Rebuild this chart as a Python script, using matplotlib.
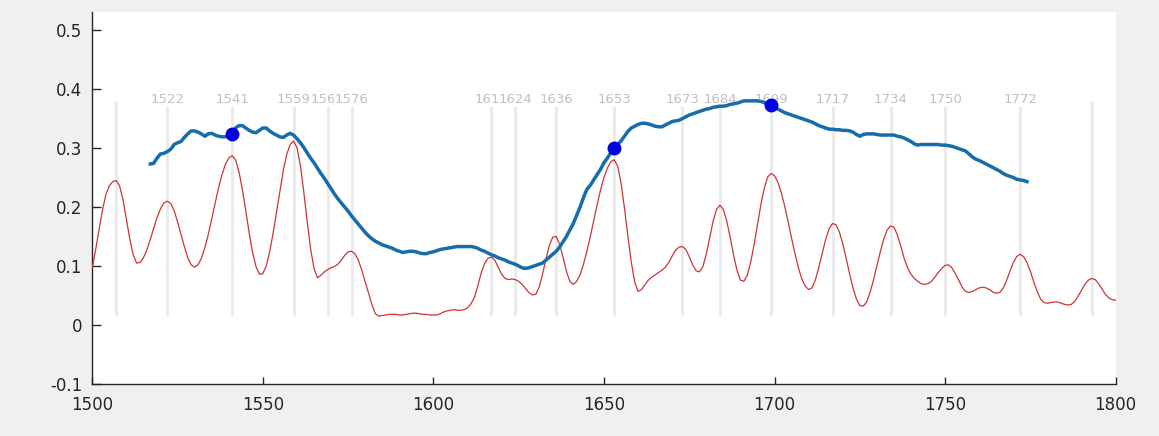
import numpy as np
import matplotlib.pyplot as plt

# annual red series, 1500-1800
years = np.arange(1500, 1801)
red = [
    0.097, 0.128, 0.162, 0.195, 0.221, 0.236, 0.243, 0.245, 0.236, 0.213,  # 1500
    0.180, 0.146, 0.119, 0.105, 0.106, 0.114, 0.127, 0.145, 0.164, 0.182,  # 1510
    0.197, 0.207, 0.210, 0.206, 0.194, 0.175, 0.154, 0.133, 0.114, 0.102,  # 1520
    0.098, 0.102, 0.113, 0.131, 0.153, 0.179, 0.206, 0.232, 0.254, 0.272,  # 1530
    0.283, 0.287, 0.280, 0.260, 0.230, 0.194, 0.156, 0.123, 0.099, 0.086,  # 1540
    0.087, 0.100, 0.124, 0.155, 0.191, 0.228, 0.262, 0.289, 0.306, 0.312,  # 1550
    0.301, 0.271, 0.226, 0.176, 0.129, 0.096, 0.080, 0.084, 0.090, 0.094,  # 1560
    0.097, 0.099, 0.103, 0.110, 0.118, 0.124, 0.125, 0.121, 0.110, 0.093,  # 1570
    0.073, 0.054, 0.034, 0.019, 0.015, 0.016, 0.017, 0.018, 0.018, 0.018,  # 1580
    0.017, 0.017, 0.018, 0.019, 0.020, 0.020, 0.019, 0.018, 0.018, 0.017,  # 1590
    0.017, 0.017, 0.019, 0.022, 0.024, 0.025, 0.026, 0.025, 0.025, 0.026,  # 1600
    0.029, 0.036, 0.046, 0.066, 0.088, 0.104, 0.113, 0.115, 0.110, 0.098,  # 1610
    0.086, 0.079, 0.077, 0.078, 0.077, 0.074, 0.069, 0.062, 0.055, 0.051,  # 1620
    0.052, 0.064, 0.086, 0.112, 0.135, 0.149, 0.150, 0.137, 0.115, 0.091,  # 1630
    0.074, 0.069, 0.074, 0.085, 0.103, 0.125, 0.150, 0.177, 0.204, 0.229,  # 1640
    0.250, 0.266, 0.277, 0.280, 0.270, 0.241, 0.199, 0.151, 0.107, 0.073,  # 1650
    0.057, 0.060, 0.068, 0.076, 0.081, 0.085, 0.089, 0.093, 0.098, 0.106,  # 1660
    0.117, 0.127, 0.132, 0.133, 0.128, 0.116, 0.102, 0.092, 0.090, 0.099,  # 1670
    0.120, 0.148, 0.176, 0.196, 0.203, 0.196, 0.176, 0.149, 0.118, 0.093,  # 1680
    0.076, 0.074, 0.084, 0.106, 0.136, 0.170, 0.204, 0.232, 0.251, 0.257,  # 1690
    0.253, 0.242, 0.224, 0.201, 0.175, 0.147, 0.121, 0.097, 0.078, 0.066,  # 1700
    0.060, 0.063, 0.077, 0.098, 0.122, 0.145, 0.163, 0.172, 0.170, 0.158,  # 1710
    0.138, 0.113, 0.087, 0.063, 0.044, 0.033, 0.032, 0.039, 0.055, 0.076,  # 1720
    0.100, 0.124, 0.145, 0.161, 0.168, 0.166, 0.153, 0.134, 0.113, 0.097,  # 1730
    0.086, 0.079, 0.074, 0.070, 0.069, 0.070, 0.074, 0.081, 0.089, 0.096,  # 1740
    0.101, 0.102, 0.097, 0.087, 0.076, 0.064, 0.057, 0.055, 0.057, 0.060,  # 1750
    0.063, 0.064, 0.063, 0.060, 0.056, 0.054, 0.055, 0.062, 0.075, 0.091,  # 1760
    0.106, 0.116, 0.120, 0.116, 0.106, 0.091, 0.073, 0.057, 0.044, 0.038,  # 1770
    0.037, 0.038, 0.039, 0.039, 0.037, 0.035, 0.034, 0.035, 0.040, 0.049,  # 1780
    0.059, 0.069, 0.076, 0.079, 0.077, 0.070, 0.061, 0.052, 0.046, 0.043,  # 1790
    0.042,
]

# blue series, 1517-1774
blue_years = np.arange(1517, 1775)
blue = [
    0.273, 0.274, 0.283,                                                   # 1517
    0.290, 0.291, 0.294, 0.298, 0.306, 0.309, 0.311, 0.318, 0.324, 0.329,  # 1520
    0.329, 0.327, 0.324, 0.320, 0.324, 0.325, 0.322, 0.320, 0.319, 0.319,  # 1530
    0.320, 0.323, 0.334, 0.338, 0.338, 0.334, 0.330, 0.327, 0.326, 0.330,  # 1540
    0.334, 0.334, 0.329, 0.325, 0.322, 0.319, 0.318, 0.322, 0.325, 0.322,  # 1550
    0.316, 0.309, 0.301, 0.292, 0.283, 0.275, 0.266, 0.257, 0.249, 0.240,  # 1560
    0.231, 0.222, 0.214, 0.207, 0.200, 0.193, 0.185, 0.178, 0.171, 0.164,  # 1570
    0.157, 0.151, 0.146, 0.142, 0.139, 0.136, 0.134, 0.132, 0.130, 0.127,  # 1580
    0.125, 0.123, 0.124, 0.125, 0.125, 0.124, 0.122, 0.121, 0.121, 0.123,  # 1590
    0.124, 0.126, 0.128, 0.129, 0.130, 0.131, 0.132, 0.133, 0.133, 0.133,  # 1600
    0.133, 0.133, 0.132, 0.130, 0.127, 0.125, 0.122, 0.119, 0.117, 0.114,  # 1610
    0.112, 0.110, 0.107, 0.105, 0.103, 0.100, 0.097, 0.096, 0.097, 0.099,  # 1620
    0.101, 0.103, 0.105, 0.110, 0.115, 0.120, 0.125, 0.132, 0.141, 0.150,  # 1630
    0.161, 0.172, 0.186, 0.200, 0.216, 0.230, 0.237, 0.246, 0.255, 0.264,  # 1640
    0.275, 0.283, 0.292, 0.300, 0.306, 0.312, 0.320, 0.328, 0.334, 0.337,  # 1650
    0.340, 0.342, 0.342, 0.341, 0.339, 0.337, 0.336, 0.336, 0.339, 0.342,  # 1660
    0.345, 0.346, 0.347, 0.350, 0.353, 0.356, 0.358, 0.360, 0.362, 0.364,  # 1670
    0.366, 0.367, 0.369, 0.370, 0.371, 0.371, 0.372, 0.374, 0.375, 0.376,  # 1680
    0.378, 0.380, 0.380, 0.380, 0.380, 0.380, 0.379, 0.377, 0.375, 0.373,  # 1690
    0.369, 0.366, 0.363, 0.360, 0.358, 0.356, 0.354, 0.352, 0.350, 0.348,  # 1700
    0.346, 0.344, 0.341, 0.338, 0.336, 0.334, 0.332, 0.332, 0.331, 0.331,  # 1710
    0.330, 0.330, 0.329, 0.327, 0.323, 0.320, 0.323, 0.324, 0.324, 0.324,  # 1720
    0.323, 0.322, 0.322, 0.322, 0.322, 0.322, 0.320, 0.319, 0.317, 0.314,  # 1730
    0.311, 0.307, 0.305, 0.306, 0.306, 0.306, 0.306, 0.306, 0.306, 0.305,  # 1740
    0.305, 0.304, 0.303, 0.301, 0.299, 0.297, 0.295, 0.290, 0.285, 0.281,  # 1750
    0.279, 0.276, 0.273, 0.270, 0.267, 0.264, 0.261, 0.257, 0.254, 0.252,  # 1760
    0.250, 0.247, 0.246, 0.245, 0.243,                                     # 1770
]

dot_years = [1541, 1653, 1699]

# years marked with vertical guides; the two outer ones carry no label
guide_years = [1507, 1522, 1541, 1559, 1569, 1576, 1617, 1624, 1636,
               1653, 1673, 1684, 1699, 1717, 1734, 1750, 1772, 1793]
label_years = [1522, 1541, 1559, 1569, 1576, 1617, 1624, 1636,
               1653, 1673, 1684, 1699, 1717, 1734, 1750, 1772]

assert len(red) == len(years)
assert len(blue) == len(blue_years)

fig = plt.figure(figsize=(11.59, 4.36), dpi=100, facecolor='#f0f0f0')
ax = fig.add_axes([0.0796, 0.1193, 0.883, 0.853])
ax.set_facecolor('white')

for yr in guide_years:
    ax.vlines(yr, 0.015, 0.38, color='#ebebeb', lw=2.2, zorder=1)
for yr in label_years:
    ax.text(yr, 0.382, str(yr), ha='center', va='center', fontsize=9.5,
            color='#c0c0c0', zorder=2,
            bbox=dict(facecolor='white', edgecolor='none', pad=0.5))

ax.plot(years, red, color='#cc3535', lw=0.9, zorder=3)
ax.plot(blue_years, blue, color='#176cab', lw=2.5, zorder=4)

blue_lookup = dict(zip(blue_years.tolist(), blue))
dot_vals = [blue_lookup[y] for y in dot_years]
ax.plot(dot_years, dot_vals, 'o', color='#0000e0', ms=9, zorder=5)

ax.set_xlim(1500, 1800)
ax.set_ylim(-0.1, 0.5305)
ax.set_xticks(np.arange(1500, 1801, 50))
ax.set_yticks([-0.1, 0, 0.1, 0.2, 0.3, 0.4, 0.5])
ax.set_yticklabels(['-0.1', '0', '0.1', '0.2', '0.3', '0.4', '0.5'])

for side in ['top', 'right']:
    ax.spines[side].set_visible(False)
for side in ['left', 'bottom']:
    ax.spines[side].set_color('#262626')
    ax.spines[side].set_linewidth(1.0)

ax.tick_params(axis='both', direction='in', colors='#262626',
               labelsize=12, width=1.0)
ax.tick_params(axis='y', length=6.5, pad=7)
ax.tick_params(axis='x', length=5, pad=9)

fig.savefig('out.png', dpi=100, facecolor=fig.get_facecolor())
